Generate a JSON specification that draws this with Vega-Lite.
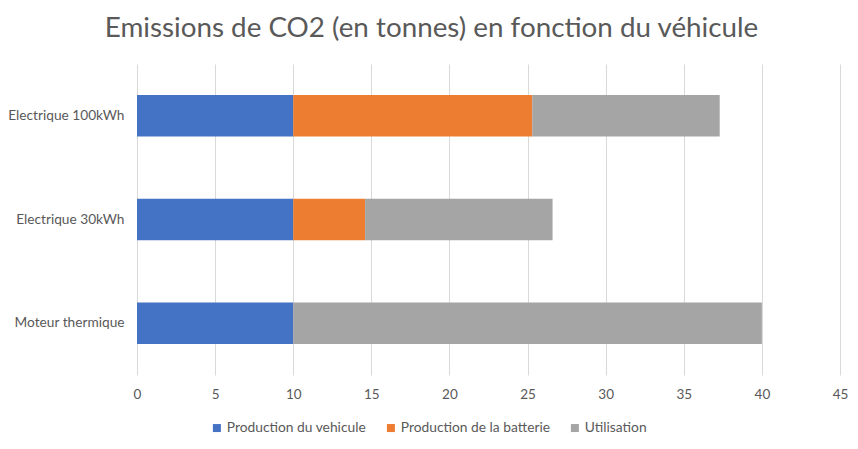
{
  "$schema": "https://vega.github.io/schema/vega-lite/v6.json",
  "autosize": {"type": "none"},
  "width": 703,
  "height": 311,
  "padding": {"left": 137, "top": 64, "right": 18, "bottom": 74},
  "background": "white",
  "config": {
    "view": {"stroke": null},
    "font": "Lato"
  },
  "title": {
    "text": "Emissions de CO2 (en tonnes) en fonction du véhicule",
    "font": "Lato",
    "fontSize": 27.8,
    "fontWeight": "normal",
    "color": "#595959",
    "anchor": "middle",
    "dx": -57,
    "offset": 21
  },
  "data": {
    "values": [
      {"vehicule": "Electrique 100kWh", "source": "Production du vehicule", "ordre": 1, "valeur": 10},
      {"vehicule": "Electrique 100kWh", "source": "Production de la batterie", "ordre": 2, "valeur": 15.3},
      {"vehicule": "Electrique 100kWh", "source": "Utilisation", "ordre": 3, "valeur": 12},
      {"vehicule": "Electrique 30kWh", "source": "Production du vehicule", "ordre": 1, "valeur": 10},
      {"vehicule": "Electrique 30kWh", "source": "Production de la batterie", "ordre": 2, "valeur": 4.6},
      {"vehicule": "Electrique 30kWh", "source": "Utilisation", "ordre": 3, "valeur": 12},
      {"vehicule": "Moteur thermique", "source": "Production du vehicule", "ordre": 1, "valeur": 10},
      {"vehicule": "Moteur thermique", "source": "Production de la batterie", "ordre": 2, "valeur": 0},
      {"vehicule": "Moteur thermique", "source": "Utilisation", "ordre": 3, "valeur": 30}
    ]
  },
  "mark": {"type": "bar"},
  "encoding": {
    "y": {
      "field": "vehicule",
      "type": "nominal",
      "sort": ["Electrique 100kWh", "Electrique 30kWh", "Moteur thermique"],
      "scale": {"paddingInner": 0.6, "paddingOuter": 0.3},
      "axis": {
        "title": null,
        "domain": false,
        "ticks": false,
        "labelFont": "Lato",
        "labelFontSize": 13.7,
        "labelColor": "#595959",
        "labelPadding": 13,
        "labelLimit": 200
      }
    },
    "x": {
      "field": "valeur",
      "type": "quantitative",
      "stack": "zero",
      "scale": {"domain": [0, 45], "nice": false},
      "axis": {
        "title": null,
        "values": [0, 5, 10, 15, 20, 25, 30, 35, 40, 45],
        "domain": false,
        "ticks": false,
        "grid": true,
        "gridColor": "#D9D9D9",
        "gridWidth": 1,
        "labelFont": "Lato",
        "labelFontSize": 13.5,
        "labelColor": "#595959",
        "labelPadding": 12,
        "labelFlush": false
      }
    },
    "color": {
      "field": "source",
      "type": "nominal",
      "sort": ["Production du vehicule", "Production de la batterie", "Utilisation"],
      "scale": {
        "domain": ["Production du vehicule", "Production de la batterie", "Utilisation"],
        "range": ["#4472C4", "#ED7D31", "#A5A5A5"]
      },
      "legend": {
        "title": null,
        "orient": "none",
        "direction": "horizontal",
        "legendX": 73,
        "legendY": 357,
        "symbolType": "square",
        "symbolSize": 64,
        "symbolStrokeWidth": 0,
        "labelFont": "Lato",
        "labelFontSize": 13.8,
        "labelColor": "#595959",
        "columnPadding": 17,
        "labelOffset": 3
      }
    },
    "order": {"field": "ordre", "type": "quantitative"}
  }
}
